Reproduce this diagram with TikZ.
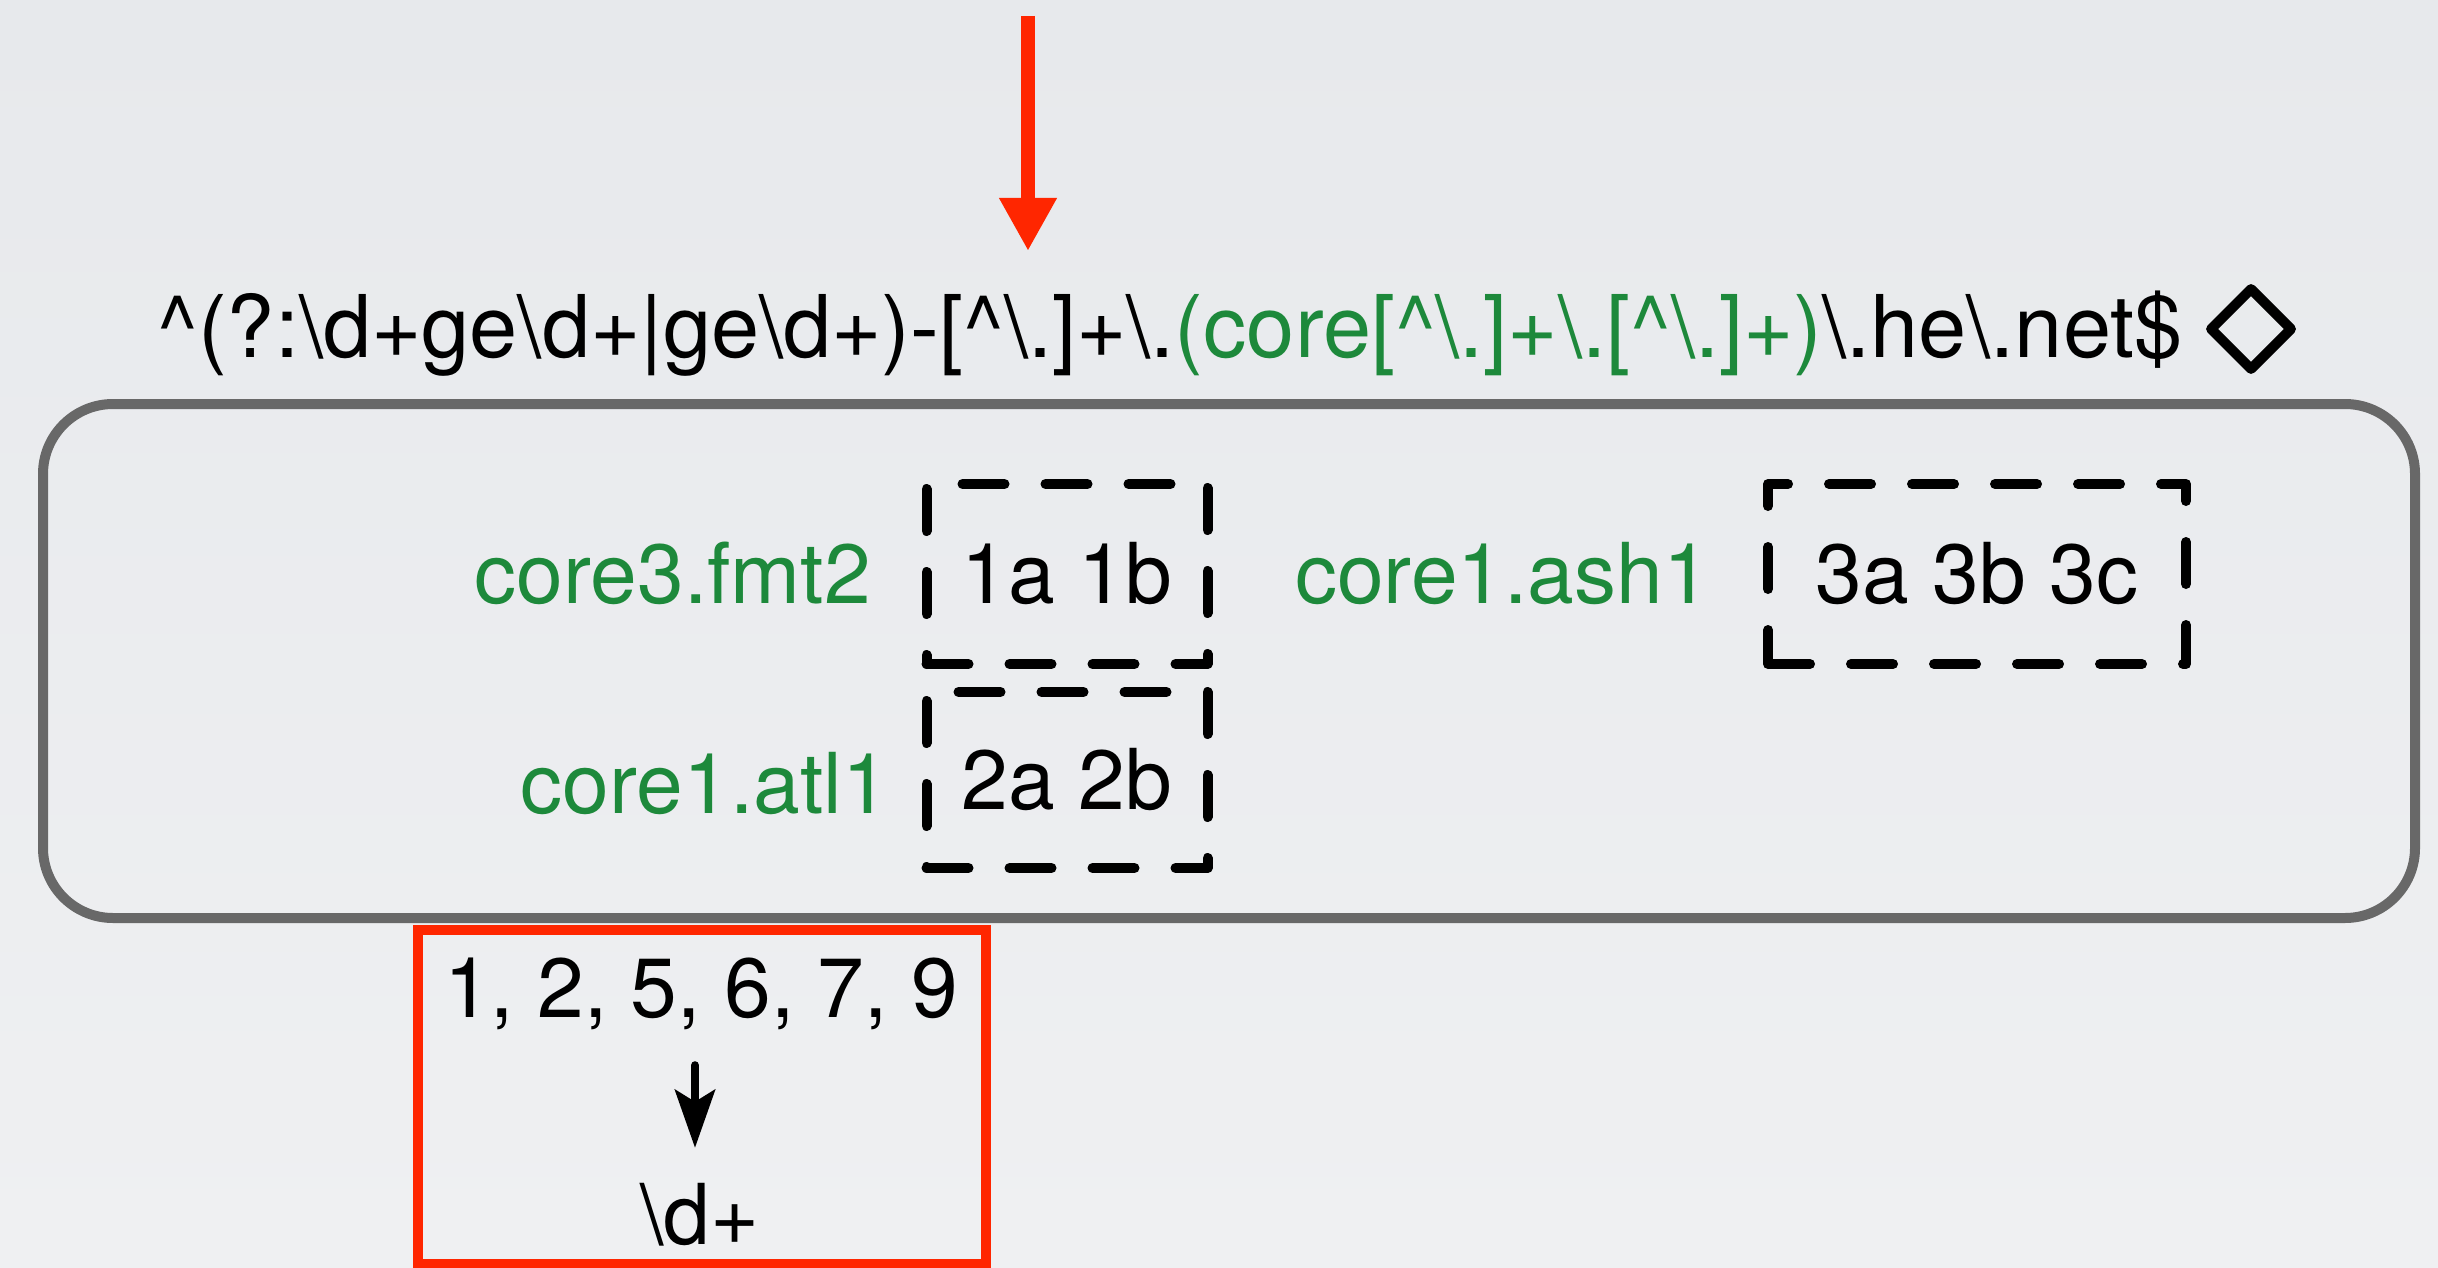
\documentclass[tikz,border=0pt]{standalone}
\usepackage{fontspec}
\setmainfont{TeX Gyre Heros}
\usetikzlibrary{arrows.meta,shapes.geometric}
\definecolor{bgtop}{RGB}{231,233,236}
\definecolor{bgbot}{RGB}{239,240,242}
\definecolor{grn}{RGB}{29,137,59}
\definecolor{redc}{RGB}{255,38,0}
\definecolor{framec}{RGB}{104,104,104}
\newcommand{\bs}{\textbackslash}
\newcommand{\ca}{\textasciicircum}
\begin{document}
\begin{tikzpicture}[x=1pt,y=-1pt,
  txt/.style={inner sep=0pt, font=\fontsize{84}{100}\selectfont},
  lbl/.style={txt, text=grn, anchor=base east},
  dbox/.style={draw=black, line width=10pt, dash pattern=on 42pt off 41pt, line cap=round, line join=round, inner sep=0pt, font=\fontsize{84}{100}\selectfont},
  redbox/.style={draw=redc, line width=10pt},
  framebox/.style={draw=framec, line width=10pt, rounded corners=70pt}]
\shade[top color=bgtop, bottom color=bgbot] (0,0) rectangle (2438,1268);
\useasboundingbox (0,0) rectangle (2438,1268);

% red arrow
\coordinate (rtop) at (1028,16);
\coordinate (rtip) at (1028,251);
\draw[redc, line width=14pt, -{Triangle[length=53pt,width=54pt]}] (rtop) -- (rtip);

% regex
\node[txt, anchor=base, font=\fontsize{86.5}{100}\selectfont] (regex) at (1170,357)
  {\ca(?:\bs d+ge\bs d+|ge\bs d+)-[\ca\bs .]+\bs .\textcolor{grn}{(core[\ca\bs .]+\bs .[\ca\bs .]+)}\bs .he\bs .net\$};
\node[diamond, draw=black, line width=10pt, line join=round, minimum width=84pt, minimum height=84pt, inner sep=0pt] (dia) at (2251,329) {};

% frame
\node[framebox, minimum width=2372pt, minimum height=514pt] (frame) at (1229,661) {};

% groups
\node[lbl] (l1) at (871,603) {core3.fmt2};
\node[dbox, minimum width=281pt, minimum height=180pt] (b1) at (1067,574) {1a 1b};
\node[lbl] (l2) at (889,813) {core1.atl1};
\node[dbox, minimum width=281pt, minimum height=176pt] (b2) at (1067,780) {2a 2b};
\node[lbl] (l3) at (1710,603) {core1.ash1};
\node[dbox, minimum width=418pt, minimum height=180pt] (b3) at (1977,574) {3a 3b 3c};

% red box
\node[redbox, minimum width=568pt, minimum height=334pt] (rb) at (702,1097) {};
\node[txt, anchor=base, text height=60pt, text depth=0pt] (nums) at (701,1017) {1, 2, 5, 6, 7, 9};
\node[txt, anchor=base, text height=62pt, text depth=0pt] (dd) at (700,1244) {\bs d+};
\draw[black, line width=8pt, line cap=round, shorten <=48pt, shorten >=34pt, -{Stealth[length=58pt,width=40pt,inset=12pt]}] (nums.south -| 695,0) -- (dd.north -| 695,0);
\end{tikzpicture}
\end{document}
